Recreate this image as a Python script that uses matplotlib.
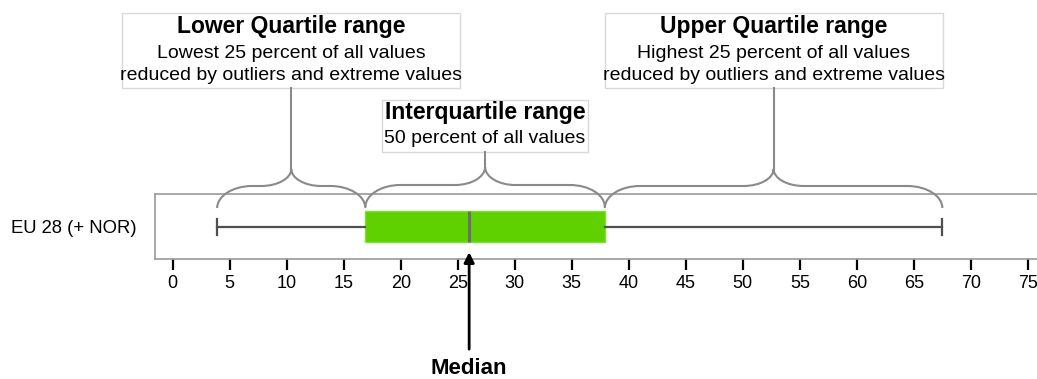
import matplotlib
matplotlib.use("Agg")
import matplotlib.pyplot as plt
from matplotlib.patches import Rectangle, PathPatch
from matplotlib.path import Path
import matplotlib.transforms as mtransforms

plt.rcParams['font.family'] = ['Liberation Sans', 'DejaVu Sans']

# data
categories = ["EU 28 (+ NOR)"]
whisker_low = [3.9]
quartile_1 = [16.9]
medians = [26.0]
quartile_3 = [37.9]
whisker_high = [67.5]
x_ticks = list(range(0, 80, 5))

W, H = 1037, 379
fig = plt.figure(figsize=(W / 100, H / 100), dpi=100)


def fx(px):
    return px / W


def fy(py):
    return 1 - py / H


ax = fig.add_axes([fx(155), fy(259.3), 1 - fx(155), (259.3 - 194.3) / H])

stats = [dict(label=categories[0], whislo=whisker_low[0], q1=quartile_1[0],
              med=medians[0], q3=quartile_3[0], whishi=whisker_high[0], fliers=[])]
ax.bxp(stats, positions=[0.5], widths=0.48, capwidths=0.25,
       orientation='horizontal', patch_artist=True, showfliers=False,
       boxprops=dict(facecolor='#5fd000', edgecolor='#7ee030', linewidth=1),
       medianprops=dict(color='#6e6e6e', linewidth=2.2),
       whiskerprops=dict(color='#505050', linewidth=1.6),
       capprops=dict(color='#505050', linewidth=1.6))

ax.set_xlim(-1.55, 75.8)
ax.set_ylim(0, 1)
ax.set_xticks(x_ticks)
ax.set_yticks([0.5])
ax.set_yticklabels(categories)
ax.tick_params(axis='x', direction='out', length=8, width=1.6, color='black',
               labelsize=13, pad=3)
ax.tick_params(axis='y', length=0, labelsize=13.3, pad=13)
for side in ['left', 'top', 'bottom']:
    ax.spines[side].set_color('#9a9a9a')
    ax.spines[side].set_linewidth(1.2)
ax.spines['right'].set_visible(False)

# braces in data x / figure y
trans = mtransforms.blended_transform_factory(ax.transData, fig.transFigure)
px_per_unit = (1037 - 155) / (75.8 + 1.55)
k = 0.55


def brace(x0, x1, y_end, y_mid, y_tip):
    xm = (x0 + x1) / 2
    r = min(35, (x1 - x0) * px_per_unit / 4) / px_per_unit
    t = min(30, (x1 - x0) * px_per_unit / 4) / px_per_unit
    ye, ym, yt = fy(y_end), fy(y_mid), fy(y_tip)
    verts = [
        (x0, ye),
        (x0, ye + (ym - ye) * k), (x0 + r * (1 - k), ym), (x0 + r, ym),
        (xm - t, ym),
        (xm - t * (1 - k), ym), (xm, ym + (yt - ym) * (1 - k)), (xm, yt),
        (xm, ym + (yt - ym) * (1 - k)), (xm + t * (1 - k), ym), (xm + t, ym),
        (x1 - r, ym),
        (x1 - r * (1 - k), ym), (x1, ye + (ym - ye) * k), (x1, ye),
    ]
    codes = [Path.MOVETO, Path.CURVE4, Path.CURVE4, Path.CURVE4, Path.LINETO,
             Path.CURVE4, Path.CURVE4, Path.CURVE4,
             Path.CURVE4, Path.CURVE4, Path.CURVE4, Path.LINETO,
             Path.CURVE4, Path.CURVE4, Path.CURVE4]
    fig.add_artist(PathPatch(Path(verts, codes), transform=trans, fill=False,
                             edgecolor='#8a8a8a', linewidth=1.5))
    return xm


def label_box(xc, top, bottom, half_w, lines):
    fig.add_artist(Rectangle((xc - half_w / px_per_unit, fy(bottom)),
                             2 * half_w / px_per_unit, (bottom - top) / H,
                             transform=trans, facecolor='white',
                             edgecolor='#d9d9d9', linewidth=1))
    for txt, y, size, weight in lines:
        fig.text(xc, fy(y), txt, transform=trans, ha='center', va='center',
                 fontsize=size, fontweight=weight, color='black')


xm_low = brace(whisker_low[0], quartile_1[0], 208, 186, 169)
xm_iqr = brace(quartile_1[0], quartile_3[0], 207, 185, 167)
xm_up = brace(quartile_3[0], whisker_high[0], 208, 186, 169)

# connectors from text boxes to brace tips
for xm, y0, y1 in [(xm_low, 88, 169), (xm_up, 88, 169), (xm_iqr, 152, 167)]:
    fig.add_artist(plt.Line2D([xm, xm], [fy(y0), fy(y1)], transform=trans,
                              color='#8a8a8a', linewidth=1.5))

label_box(xm_low, 13.5, 88, 169, [
    ("Lower Quartile range", 27, 16.5, 'bold'),
    ("Lowest 25 percent of all values", 53, 14, 'normal'),
    ("reduced by outliers and extreme values", 76, 14, 'normal')])
label_box(xm_up, 13.5, 88, 169, [
    ("Upper Quartile range", 27, 16.5, 'bold'),
    ("Highest 25 percent of all values", 53, 14, 'normal'),
    ("reduced by outliers and extreme values", 76, 14, 'normal')])
label_box(xm_iqr, 100, 152, 103, [
    ("Interquartile range", 113, 16.5, 'bold'),
    ("50 percent of all values", 139, 14, 'normal')])

ax.annotate("Median", xy=(medians[0], 0.11), xycoords=('data', 'axes fraction'),
            xytext=(medians[0], fy(368)), textcoords=('data', 'figure fraction'),
            ha='center', va='center', fontsize=16, fontweight='bold',
            arrowprops=dict(arrowstyle='-|>', color='black', lw=2,
                            mutation_scale=15, shrinkA=4, shrinkB=0))

fig.savefig("out.png", dpi=100)
